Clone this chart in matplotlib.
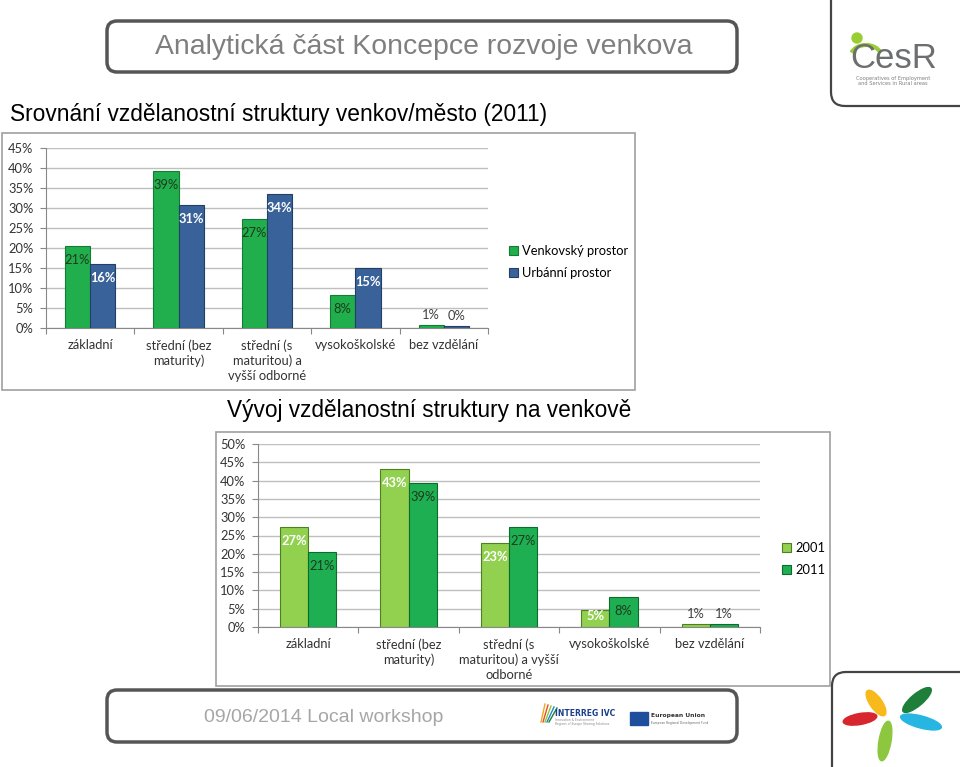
import numpy as np
import matplotlib
matplotlib.use("Agg")
import matplotlib.pyplot as plt
from matplotlib.patches import FancyBboxPatch, Rectangle, Ellipse, Circle, Arc

# data
kategorie_1 = ["základní", "střední (bez\nmaturity)", "střední (s\nmaturitou) a\nvyšší odborné",
               "vysokoškolské", "bez vzdělání"]
venkov = [20.6, 39.3, 27.2, 8.2, 0.8]
mesto = [15.9, 30.8, 33.6, 15.0, 0.4]

kategorie_2 = ["základní", "střední (bez\nmaturity)", "střední (s\nmaturitou) a vyšší\nodborné",
               "vysokoškolské", "bez vzdělání"]
rok_2001 = [27.3, 43.3, 23.0, 4.6, 0.7]
rok_2011 = [20.6, 39.3, 27.2, 8.3, 0.7]

W, H = 960, 767
fig = plt.figure(figsize=(W / 100, H / 100), dpi=100)

# pozadi v pixelech
bg = fig.add_axes([0, 0, 1, 1])
bg.set_xlim(0, W)
bg.set_ylim(H, 0)
bg.axis("off")

def box(x0, y0, x1, y1, r=10, lw=2.5, ec="#555555"):
    bg.add_patch(FancyBboxPatch((x0, y0), x1 - x0, y1 - y0,
                                boxstyle="round,pad=0,rounding_size=%d" % r,
                                fc="white", ec=ec, lw=lw))

box(107, 21, 737, 72)
box(107, 690, 737, 742)
box(831, -20, 990, 106, r=14, lw=1.6, ec="#444444")
box(832, 672, 990, 800, r=14, lw=1.6, ec="#444444")

bg.text(424, 47, "Analytická část Koncepce rozvoje venkova", ha="center", va="center",
        fontsize=20.4, color="#7F7F7F", family="Liberation Sans")
bg.text(10, 115, "Srovnání vzdělanostní struktury venkov/město (2011)", ha="left", va="center",
        fontsize=16.4, color="black", family="Liberation Sans")
bg.text(429, 411, "Vývoj vzdělanostní struktury na venkově", ha="center", va="center",
        fontsize=16.3, color="black", family="Liberation Sans")
bg.text(324, 717, "09/06/2014 Local workshop", ha="center", va="center",
        fontsize=14, color="#A6A6A6", family="Liberation Sans")

# logo CesR
bg.add_patch(Circle((857, 38), 5, color="#9ACD32"))
bg.add_patch(Arc((866, 58), 32, 26, theta1=200, theta2=340, color="#9ACD32", lw=3))
bg.text(894, 59, "CesR", ha="center", va="center", fontsize=25, color="#6D6E70",
        family="Liberation Sans")
bg.text(893, 81, "Cooperatives of Employment\nand Services in Rural areas", ha="center",
        va="center", fontsize=3.7, color="#808080", linespacing=1.1)

# logo kvet
for (cx, cy, w, h, a, c) in [(876, 703, 12, 30, -35, "#F7B91C"), (917, 700, 12, 36, -130, "#1E7F3A"),
                             (860, 719, 11, 34, 80, "#D7262E"), (921, 722, 12, 42, 105, "#27B5E2"),
                             (885, 741, 12, 40, 10, "#8DC63F")]:
    bg.add_patch(Ellipse((cx, cy), w, h, angle=a, color=c))

# loga interreg / EU
for i, c in enumerate(["#F5A623", "#E94E1B", "#8DC63F", "#1E88C9", "#1E7F3A"]):
    bg.plot([541 + i * 2, 545 + i * 3], [722, 704 + i], color=c, lw=1)
bg.text(555, 714, "INTERREG IVC", fontsize=5.5, color="#1B3E8C", va="center", weight="bold")
bg.text(555, 722, "Innovation & Environment\nRegions of Europe Sharing Solutions", fontsize=2.2,
        color="#888888", va="center")
bg.add_patch(Rectangle((630, 712), 18, 13, color="#1F4E9C"))
bg.text(651, 716, "European Union", fontsize=4.3, color="#333333", va="center", weight="bold")
bg.text(651, 723, "European Regional Development Fund", fontsize=2.2, color="#666666", va="center")

# ramecky grafu
bg.add_patch(Rectangle((2, 133), 633, 257, fc="white", ec="#A0A0A0", lw=1.2))
bg.add_patch(Rectangle((216, 432), 614, 254, fc="white", ec="#A0A0A0", lw=1.2))


def pix_axes(x0, y0, x1, y1):
    return fig.add_axes([x0 / W, 1 - y1 / H, (x1 - x0) / W, (y1 - y0) / H])


font = "Lato"
fs = 9.3


def graf(ax, kat, s1, s2, c1, e1, c2, e2, ymax, width, styl1, styl2, lab1, lab2, leg_xy, vyska_px):
    x = np.arange(len(kat))
    b1 = ax.bar(x - width / 2, s1, width, color=c1, edgecolor=e1, lw=0.8, label=lab1, zorder=3)
    b2 = ax.bar(x + width / 2, s2, width, color=c2, edgecolor=e2, lw=0.8, label=lab2, zorder=3)
    for bars, vals, (col, wt) in [(b1, s1, styl1), (b2, s2, styl2)]:
        for rect, v in zip(bars, vals):
            xc = rect.get_x() + rect.get_width() / 2
            txt = "%.0f%%" % v
            bar_px = v / ymax * vyska_px
            if v >= 3:
                # popisek uvnitr u konce sloupce, u nizkych sloupcu posunuty nahoru
                off = max(0, min(8, bar_px - 17))
                ax.annotate(txt, (xc, v), xytext=(0, -off * 0.72), textcoords="offset points",
                            ha="center", va="top", color=col, fontsize=fs, weight=wt,
                            family=font, zorder=4)
            else:
                ax.annotate(txt, (xc, v), xytext=(0, 3), textcoords="offset points",
                            ha="center", va="bottom", color="#404040", fontsize=fs,
                            family=font, zorder=4)
    ax.set_xlim(-0.5, len(kat) - 0.5)
    ax.set_ylim(0, ymax)
    ax.set_yticks(np.arange(0, ymax + 1, 5))
    ax.set_yticklabels(["%d%%" % t for t in np.arange(0, ymax + 1, 5)], family=font,
                       fontsize=fs, color="#333333")
    ax.yaxis.grid(True, color="#BFBFBF", lw=1, zorder=0)
    ax.set_axisbelow(True)
    ax.set_xticks(np.arange(-0.5, len(kat), 1))
    ax.set_xticklabels([""] * (len(kat) + 1))
    ax.set_xticks(x, minor=True)
    ax.set_xticklabels(kat, minor=True, family=font, fontsize=fs, color="#333333",
                       linespacing=1.3)
    ax.tick_params(axis="x", which="minor", length=0, pad=8)
    ax.tick_params(axis="x", which="major", length=4, color="#888888")
    ax.tick_params(axis="y", length=4, color="#888888", pad=5)
    for s in ["top", "right"]:
        ax.spines[s].set_visible(False)
    for s in ["left", "bottom"]:
        ax.spines[s].set_color("#888888")
    ax.legend(loc="center left", bbox_to_anchor=(leg_xy[0] / W, 1 - leg_xy[1] / H),
              bbox_transform=fig.transFigure, frameon=False, handlelength=0.7,
              handleheight=0.7, handletextpad=0.35, labelspacing=0.8,
              prop={"family": font, "size": fs})


ax1 = pix_axes(46, 148, 488, 328)
graf(ax1, kategorie_1, venkov, mesto, "#20AF4C", "#157A35", "#39629A", "#223F66", 45, 0.285,
     ("#1E3A1E", "normal"), ("white", "bold"), "Venkovský prostor", "Urbánní prostor", (497, 262),
     180)

ax2 = pix_axes(258, 444, 760, 627)
graf(ax2, kategorie_2, rok_2001, rok_2011, "#92D050", "#4E7F22", "#1EAF52", "#0E6B2E", 50, 0.28,
     ("white", "bold"), ("#1E3A1E", "normal"), "2001", "2011", (770, 559), 183)

fig.savefig("out.png", dpi=100)
